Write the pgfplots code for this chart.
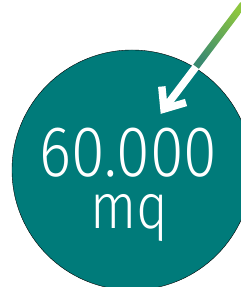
\documentclass[border=0pt]{standalone}
\usepackage{pgfplots}
\pgfplotsset{compat=1.18}
\usepackage{fontspec}
\newfontfamily\numfont{Fira Sans}[UprightFont={* Light}, FakeStretch=0.85]
\definecolor{circteal}{HTML}{007B7A}
\definecolor{arrgreen}{HTML}{8DC63F}
\definecolor{arrteal}{HTML}{3A8A70}
\begin{document}
\begin{tikzpicture}
\begin{axis}[name=ax, width=241bp, height=287bp, scale only axis,
  xmin=0, xmax=241, ymin=0, ymax=287, hide axis, clip=true, clip marker paths=true]
% circle
\addplot[only marks, mark=*, mark size=120.45pt, mark options={fill=circteal, draw=none}] coordinates {(132,117)};
% gradient shaft outside circle
\addplot[draw=none, top color=arrgreen, bottom color=arrteal, shading angle=-37]
  coordinates {(192.9,222.0) (240.4,284.9) (246.0,280.7) (198.5,217.8)} -- cycle;
% white shaft inside circle
\addplot[white, line width=7.5bp] coordinates {(164,178) (196.0,220.2)};
% chevron head
\addplot[white, line width=7.5bp, line join=miter] coordinates {(161.8,200.5) (164,178) (186,184.5)};
% text
\node[white, anchor=base, inner sep=0pt] at (axis cs:128.5,110) {\numfont\fontsize{72}{72}\selectfont 60.000};
\node[white, anchor=base, inner sep=0pt] at (axis cs:129.5,58) {\numfont\fontsize{64}{64}\selectfont mq};
\end{axis}
\pgfresetboundingbox
\path (ax.south west) rectangle (ax.north east);
\end{tikzpicture}
\end{document}
